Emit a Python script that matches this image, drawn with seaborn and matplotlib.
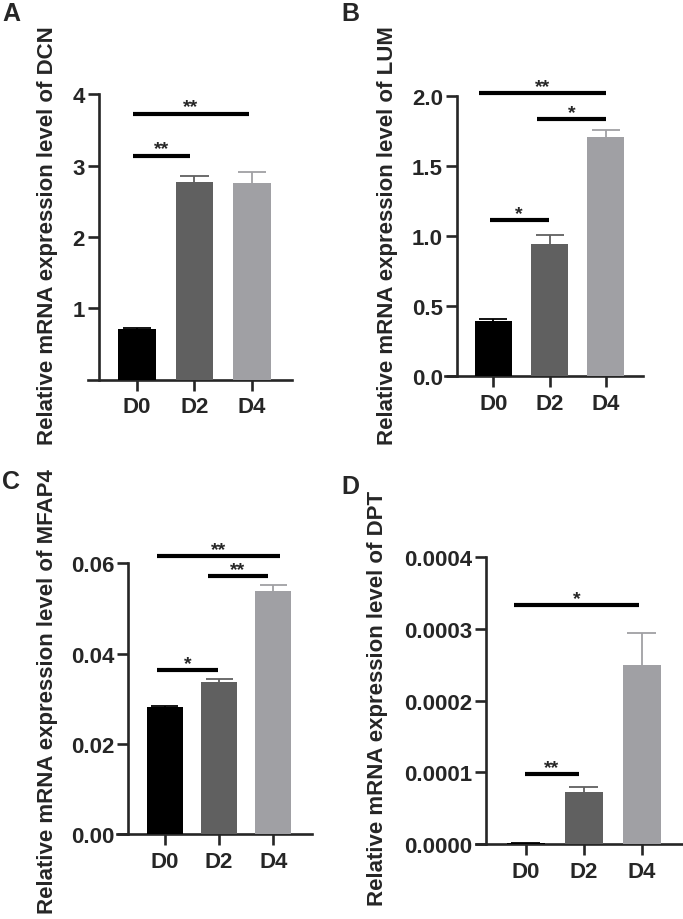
import numpy as np
import pandas as pd
import seaborn as sns
import matplotlib
matplotlib.use("Agg")
import matplotlib.pyplot as plt

# dados (media +- erro padrao)
groups = ['D0', 'D2', 'D4']
colors = ['#000000', '#606060', '#a0a0a4']

dcn_mean = [0.71, 2.77, 2.75]
dcn_sem = [0.02, 0.08, 0.16]
lum_mean = [0.396, 0.94, 1.707]
lum_sem = [0.012, 0.065, 0.045]
mfap4_mean = [0.0281, 0.0338, 0.0539]
mfap4_sem = [0.0003, 0.0006, 0.0012]
dpt_mean = [0.0000015, 0.0000729, 0.00025]
dpt_sem = [0.0000003, 0.0000062, 0.000044]

# comparacoes: (inicio, fim, altura, texto)
dcn_sig = [(-0.07, 0.92, 3.14, '**'), (-0.07, 1.95, 3.73, '**')]
lum_sig = [(-0.06, 0.98, 1.113, '*'), (0.77, 2.01, 1.833, '*'), (-0.25, 2.0, 2.02, '**')]
mfap4_sig = [(-0.15, 0.98, 0.0364, '*'), (0.8, 1.9, 0.0571, '**'), (-0.15, 2.12, 0.0616, '**')]
dpt_sig = [(-0.01, 0.92, 0.0000976, '**'), (-0.2, 1.96, 0.000333, '*')]

sns.set_style("ticks")
plt.rcParams['font.family'] = ['Liberation Sans', 'DejaVu Sans']
plt.rcParams['font.weight'] = 'bold'

W, H = 683, 920
fig = plt.figure(figsize=(W / 100, H / 100), dpi=100)


def painel(box, xlim, spine_x, mean, sem, ymax, yticks, ylabels, sig, gene, label_xy, letter, letter_xy):
    left, right, bottom, top = box
    ax = fig.add_axes([left / W, 1 - bottom / H, (right - left) / W, (bottom - top) / H])
    df = pd.DataFrame({'grupo': groups, 'valor': mean})
    sns.barplot(data=df, x='grupo', y='valor', hue='grupo', palette=colors,
                legend=False, width=0.66, saturation=1, errorbar=None, ax=ax,
                zorder=3, linewidth=0)
    # barra de erro so para cima, com tampa
    for i, (m, s) in enumerate(zip(mean, sem)):
        ax.vlines(i, m, m + s, color=colors[i], lw=1.3, zorder=2, clip_on=False)
        ax.hlines(m + s, i - 0.25, i + 0.25, color=colors[i], lw=1.3, zorder=2, clip_on=False)
    ax.set_xlim(*xlim)
    ax.set_ylim(0, ymax)
    ax.set_yticks(yticks)
    ax.set_yticklabels(ylabels)
    ax.spines['top'].set_visible(False)
    ax.spines['right'].set_visible(False)
    ax.spines['left'].set_position(('data', spine_x))
    for sp in ['left', 'bottom']:
        ax.spines[sp].set_linewidth(1.9)
    ax.tick_params(axis='both', direction='out', length=8, width=1.9, labelsize=16)
    ax.tick_params(axis='x', pad=4)
    ax.tick_params(axis='y', pad=2)
    for t in ax.get_xticklabels() + ax.get_yticklabels():
        t.set_fontweight('bold')
    ax.set_xlabel('')
    ax.set_ylabel('')
    for x0, x1, y, txt in sig:
        ax.plot([x0, x1], [y, y], color='black', lw=3, clip_on=False, solid_capstyle='butt')
        ax.annotate(txt, xy=((x0 + x1) / 2, y), xytext=(0, 1.5), textcoords='offset points',
                    ha='center', va='baseline', fontsize=14, fontweight='bold',
                    annotation_clip=False)
    fig.text(label_xy[0] / W, 1 - label_xy[1] / H,
             'Relative mRNA expression level of ' + gene,
             rotation=90, ha='center', va='center', fontsize=16, fontweight='bold')
    fig.text(letter_xy[0] / W, 1 - letter_xy[1] / H, letter,
             ha='left', va='top', fontsize=18, fontweight='bold')
    return ax


painel((88, 292, 380.6, 95.3), (-0.852, 2.696), -0.661, dcn_mean, dcn_sem, 4,
       [1, 2, 3, 4], ['1', '2', '3', '4'], dcn_sig, 'DCN', (48, 236), 'A', (2, 2))
painel((445, 643, 377.3, 96.7), (-0.86, 2.66), -0.65, lum_mean, lum_sem, 2.0,
       [0, 0.5, 1.0, 1.5, 2.0], ['0.0', '0.5', '1.0', '1.5', '2.0'], lum_sig, 'LUM',
       (388, 236), 'B', (341, 2))
painel((116.7, 311.7, 835, 564.3), (-0.89, 2.71), -0.68, mfap4_mean, mfap4_sem, 0.06,
       [0, 0.02, 0.04, 0.06], ['0.00', '0.02', '0.04', '0.06'], mfap4_sig, 'MFAP4',
       (48, 692), 'C', (2, 470))
painel((476, 681.7, 845, 558.3), (-0.857, 2.69), -0.68, dpt_mean, dpt_sem, 0.0004,
       [0, 0.0001, 0.0002, 0.0003, 0.0004],
       ['0.0000', '0.0001', '0.0002', '0.0003', '0.0004'], dpt_sig, 'DPT',
       (378, 698), 'D', (341, 475))

fig.savefig('out.png', dpi=100)
